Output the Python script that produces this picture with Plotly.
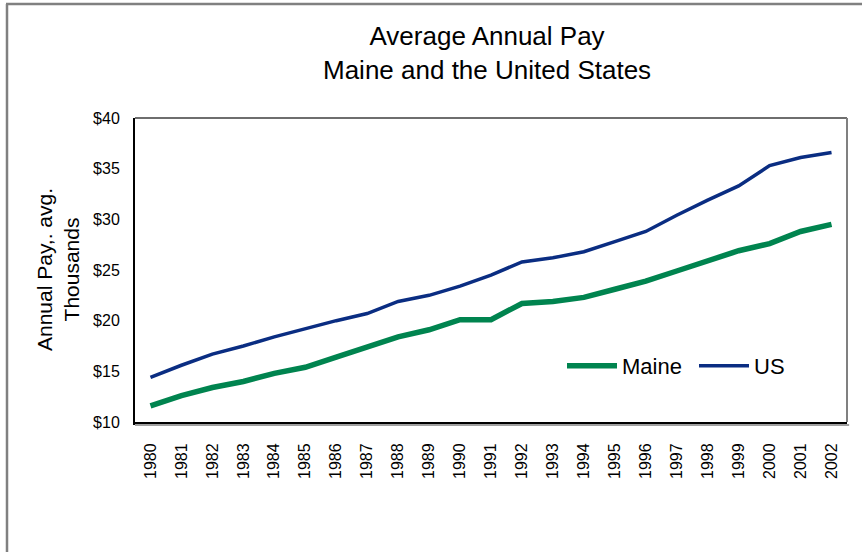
import plotly.graph_objects as go

years = ["1980", "1981", "1982", "1983", "1984", "1985", "1986", "1987", "1988", "1989",
         "1990", "1991", "1992", "1993", "1994", "1995", "1996", "1997", "1998", "1999",
         "2000", "2001", "2002"]
maine = [11.6, 12.6, 13.4, 14.0, 14.8, 15.4, 16.4, 17.4, 18.4, 19.1, 20.1, 20.1,
         21.7, 21.9, 22.3, 23.1, 23.9, 24.9, 25.9, 26.9, 27.6, 28.8, 29.5]
us = [14.4, 15.6, 16.7, 17.5, 18.4, 19.2, 20.0, 20.7, 21.9, 22.5, 23.4, 24.5,
      25.8, 26.2, 26.8, 27.8, 28.8, 30.4, 31.9, 33.3, 35.3, 36.1, 36.6]

FONT = "Liberation Sans, Arial, sans-serif"
W, H = 862, 552
L, R, T, B = 135, 15, 118, 130
PW, PH = W - L - R, H - T - B

def px_x(x):
    return (x - L) / PW

def px_y(y):
    return (H - B - y) / PH

fig = go.Figure()
fig.add_trace(go.Scatter(x=years, y=maine, mode="lines", name="Maine",
                         line=dict(color="#00844F", width=5.5)))
fig.add_trace(go.Scatter(x=years, y=us, mode="lines", name="US",
                         line=dict(color="#0A2D82", width=3.5)))

fig.update_layout(
    width=W, height=H,
    margin=dict(l=L, r=R, t=T, b=B, pad=0),
    paper_bgcolor="white", plot_bgcolor="white",
    font=dict(family=FONT, color="black", size=16),
    showlegend=True,
    legend=dict(orientation="h", x=px_x(562), y=px_y(366), xanchor="left", yanchor="middle",
                font=dict(size=22, family=FONT), bgcolor="rgba(0,0,0,0)",
                itemwidth=50, entrywidth=67, tracegroupgap=0),
    xaxis=dict(type="category", range=[-0.5, len(years) - 0.5], showgrid=False, zeroline=False,
               showline=True, linecolor="black", linewidth=3,
               tickangle=-90, ticks="outside", ticklen=12, tickcolor="rgba(0,0,0,0)",
               tickfont=dict(size=16, family=FONT)),
    yaxis=dict(range=[10, 40], dtick=5, tickprefix="$", showgrid=False, zeroline=False,
               showline=True, linecolor="black", linewidth=2,
               ticks="outside", ticklen=10, tickcolor="rgba(0,0,0,0)",
               tickfont=dict(size=16, family=FONT)),
)

# Title
fig.add_annotation(text="Average Annual Pay<br>Maine and the United States",
                   xref="paper", yref="paper", x=px_x(487), y=px_y(53),
                   xanchor="center", yanchor="middle", showarrow=False,
                   font=dict(size=26, family=FONT, color="black"))
# Y axis title
fig.add_annotation(text="Annual Pay,. avg.<br>Thousands",
                   xref="paper", yref="paper", x=px_x(58), y=0.5,
                   xanchor="center", yanchor="middle", showarrow=False, textangle=-90,
                   font=dict(size=21, family=FONT, color="black"))

# Plot frame: top & right gray, bottom shadow
fig.add_shape(type="line", xref="paper", yref="paper", x0=0, x1=1, y0=1, y1=1,
              line=dict(color="#6E6E6E", width=2))
fig.add_shape(type="line", xref="paper", yref="paper", x0=1, x1=1, y0=0, y1=1,
              line=dict(color="#808080", width=2))
fig.add_shape(type="line", xref="paper", yref="paper", x0=0, x1=1.003, y0=-3 / PH, y1=-3 / PH,
              line=dict(color="#A0A0A0", width=2))

# Outer chart border (left and top visible)
fig.add_shape(type="line", xref="paper", yref="paper", x0=px_x(7), x1=px_x(7),
              y0=px_y(4), y1=px_y(560), line=dict(color="#808080", width=2.5))
fig.add_shape(type="line", xref="paper", yref="paper", x0=px_x(6), x1=px_x(870),
              y0=px_y(4), y1=px_y(4), line=dict(color="#808080", width=2.5))

fig.write_html("out.html", config={"displayModeBar": False},
               post_script="document.body.style.margin='0';")
